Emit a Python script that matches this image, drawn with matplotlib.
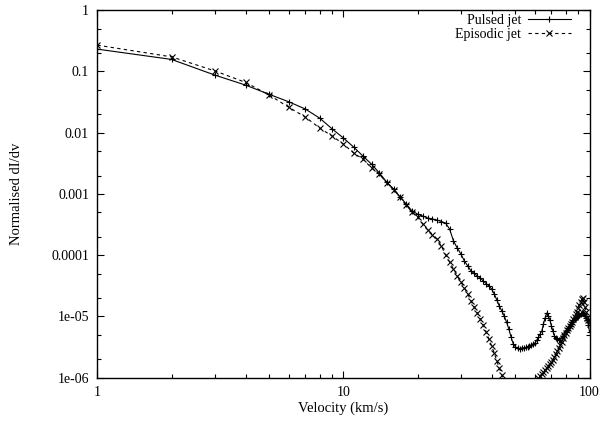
import numpy as np
from matplotlib import pyplot as plt
from matplotlib.ticker import LogLocator, FixedFormatter, FixedLocator, NullFormatter

# velocity channels (km/s), one per integer velocity
VELOCITY = list(range(1, 101))

PULSED_JET = [
    0.231, 0.157, 0.0871, 0.0598, 0.0421, 0.0319, 0.0243, 0.0173, 0.0115, 0.00817,
    0.00582, 0.00415, 0.00307, 0.00219, 0.00156, 0.00120, 0.000890, 0.000684, 0.000526, 0.000470,
    0.000436, 0.000404, 0.000390, 0.000375, 0.000355, 0.000335, 0.000267, 0.000171, 0.000131, 0.000105,
    8.04e-5, 6.67e-5, 5.52e-5, 5.03e-5, 4.58e-5, 4.25e-5, 3.79e-5, 3.45e-5, 3.15e-5, 2.81e-5,
    2.33e-5, 1.86e-5, 1.48e-5, 1.23e-5, 1.02e-5, 8.1e-6, 6.25e-6, 4.6e-6, 3.56e-6, 3.18e-6,
    3.06e-6, 3.0e-6, 3.06e-6, 3.06e-6, 3.13e-6, 3.18e-6, 3.25e-6, 3.37e-6, 3.5e-6, 3.7e-6,
    4.07e-6, 4.6e-6, 5.2e-6, 5.8e-6, 7.55e-6, 9.5e-6, 1.14e-5, 1.02e-5, 8.8e-6, 7.0e-6,
    5.8e-6, 4.8e-6, 4.46e-6, 4.3e-6, 4.14e-6, 4.14e-6, 4.46e-6, 4.8e-6, 5.2e-6, 5.6e-6,
    6.0e-6, 6.5e-6, 7.0e-6, 7.55e-6, 8.1e-6, 8.8e-6, 9.1e-6, 9.5e-6, 9.8e-6, 1.02e-5,
    1.06e-5, 1.10e-5, 1.14e-5, 1.14e-5, 1.10e-5, 1.02e-5, 9.5e-6, 8.8e-6, 7.27e-6, 5.6e-6,
]

EPISODIC_JET = [
    0.268, 0.173, 0.102, 0.0662, 0.0410, 0.0259, 0.0180, 0.0119, 0.00881, 0.00652,
    0.00465, 0.00371, 0.00265, 0.00211, 0.00151, 0.00116, 0.000890, 0.000659, 0.000507, 0.000420,
    0.000323, 0.000258, 0.000214, 0.000184, 0.000141, 0.000101, 7.75e-5, 5.95e-5, 4.58e-5, 3.65e-5,
    2.92e-5, 2.33e-5, 1.79e-5, 1.43e-5, 1.14e-5, 9.1e-6, 7.27e-6, 5.6e-6, 4.3e-6, 3.3e-6,
    2.54e-6, 1.88e-6, 1.44e-6, 1.11e-6, 8.5e-7, 6.6e-7, 5.2e-7, 4.4e-7, 3.8e-7, 3.3e-7,
    3.0e-7, 2.8e-7, 2.7e-7, 2.7e-7, 2.8e-7, 3.0e-7, 3.4e-7, 4.0e-7, 5.0e-7, 7.6e-7,
    8.9e-7, 9.9e-7, 1.07e-6, 1.15e-6, 1.24e-6, 1.34e-6, 1.44e-6, 1.56e-6, 1.68e-6, 1.81e-6,
    1.95e-6, 2.18e-6, 2.44e-6, 2.74e-6, 3.06e-6, 3.43e-6, 3.84e-6, 4.46e-6, 5.0e-6, 5.4e-6,
    6.0e-6, 6.5e-6, 7.0e-6, 7.55e-6, 8.1e-6, 9.1e-6, 9.8e-6, 1.10e-5, 1.18e-5, 1.38e-5,
    1.54e-5, 1.72e-5, 1.93e-5, 2.00e-5, 1.72e-5, 1.43e-5, 1.18e-5, 9.5e-6, 8.8e-6, 7.55e-6,
]

Y_TICKS = [1e-6, 1e-5, 1e-4, 1e-3, 1e-2, 1e-1, 1]
Y_TICK_LABELS = ["1e-06", "1e-05", "0.0001", "0.001", "0.01", "0.1", "1"]
X_TICKS = [1, 10, 100]
X_TICK_LABELS = ["1", "10", "100"]


def plot():
    plt.rcParams["font.family"] = ["Liberation Serif", "DejaVu Serif"]
    plt.rcParams["font.size"] = 10

    fig = plt.figure(figsize=(6.09, 4.23), dpi=100)
    ax = fig.add_axes([0.160, 0.107, 0.808, 0.869])

    ax.plot(VELOCITY, PULSED_JET, color="black", lw=0.8, ls="-",
            marker="+", ms=5, mew=0.8, label="Pulsed jet")
    ax.plot(VELOCITY, EPISODIC_JET, color="black", lw=0.8, ls=(0, (3, 3)),
            marker="x", ms=4, mew=0.8, label="Episodic jet")

    ax.set_xscale("log")
    ax.set_yscale("log")
    ax.set_xlim(1, 100)
    ax.set_ylim(1e-6, 1)

    ax.xaxis.set_major_locator(FixedLocator(X_TICKS))
    ax.xaxis.set_major_formatter(FixedFormatter(X_TICK_LABELS))
    ax.xaxis.set_minor_locator(LogLocator(base=10, subs=np.arange(2, 10)))
    ax.xaxis.set_minor_formatter(NullFormatter())
    ax.yaxis.set_major_locator(FixedLocator(Y_TICKS))
    ax.yaxis.set_major_formatter(FixedFormatter(Y_TICK_LABELS))
    ax.yaxis.set_minor_locator(LogLocator(base=10, subs=[2, 5]))
    ax.yaxis.set_minor_formatter(NullFormatter())

    ax.tick_params(which="both", direction="in", top=True, right=True, width=0.8)
    ax.tick_params(which="major", length=5, pad=6)
    ax.tick_params(which="minor", length=3)
    for spine in ax.spines.values():
        spine.set_linewidth(1.0)

    ax.set_xlabel("Velocity (km/s)", fontsize=10.5, labelpad=2)
    ax.set_ylabel("Normalised dI/dv", fontsize=10.5, labelpad=20)

    ax.legend(loc="upper right", bbox_to_anchor=(0.968, 0.997), frameon=False,
              markerfirst=False, handlelength=3.1, handletextpad=0.5,
              labelspacing=0.05, borderaxespad=0, borderpad=0.2)

    fig.savefig("out.png", dpi=100)


def main():
    plot()


if __name__ == "__main__":
    main()
